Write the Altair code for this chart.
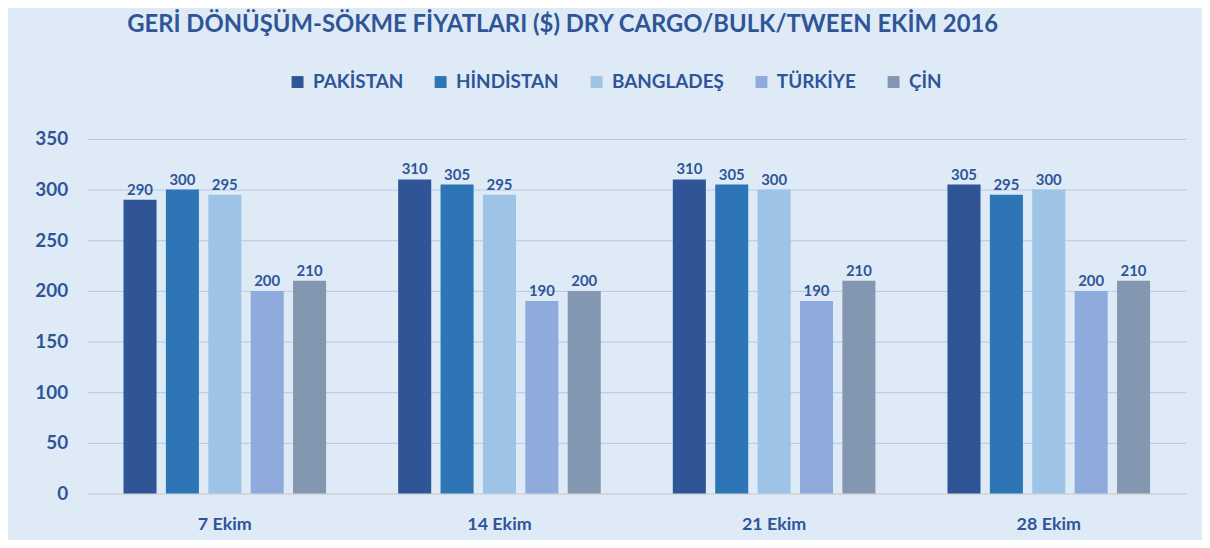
import altair as alt
import pandas as pd

dates = ["7 Ekim", "14 Ekim", "21 Ekim", "28 Ekim"]
countries = ["PAKİSTAN", "HİNDİSTAN", "BANGLADEŞ", "TÜRKİYE", "ÇİN"]
pakistan = [290, 310, 310, 305]
hindistan = [300, 305, 305, 295]
banglades = [295, 295, 300, 300]
turkiye = [200, 190, 190, 200]
cin = [210, 200, 210, 210]
colors = ["#2F5597", "#2E75B6", "#9DC3E6", "#8FAADC", "#8497B0"]

series = [pakistan, hindistan, banglades, turkiye, cin]
rows = []
for c, vals in zip(countries, series):
    for d, v in zip(dates, vals):
        rows.append({"date": d, "country": c, "value": v})
df = pd.DataFrame(rows)

TXT = "#2F5597"
FONT = "Lato"

base = alt.Chart(df).encode(
    x=alt.X("date:N", sort=dates, scale=alt.Scale(paddingInner=0, paddingOuter=0),
            axis=alt.Axis(title=None, labelAngle=0, ticks=False, domainColor="#D9D9D9",
                          domainWidth=1.5, labelPadding=22, labelFontSize=18,
                          labelFont=FONT, labelFontWeight="bold", labelColor=TXT)),
    xOffset=alt.XOffset("country:N", sort=countries,
                        scale=alt.Scale(paddingInner=0.22, paddingOuter=0.85)),
    y=alt.Y("value:Q", scale=alt.Scale(domain=[0, 350]),
            axis=alt.Axis(title=None, values=list(range(0, 351, 50)), domain=False,
                          ticks=False, labelPadding=20, labelFontSize=19, labelFont=FONT,
                          labelFontWeight="bold", labelColor=TXT, gridColor="#B4C7E7")),
)

bars = base.mark_bar().encode(
    color=alt.Color("country:N", sort=countries,
                    scale=alt.Scale(domain=countries, range=colors),
                    legend=alt.Legend(orient="none", legendX=202, legendY=-67,
                                      direction="horizontal", title=None,
                                      symbolType="square", symbolSize=144,
                                      symbolStrokeWidth=0, labelFont=FONT,
                                      labelFontSize=19, labelFontWeight="bold",
                                      labelColor=TXT, columnPadding=28, labelOffset=6))
)

labels = base.mark_text(dy=-10, font=FONT, fontSize=15, fontWeight="bold", color=TXT).encode(
    text="value:Q"
)

chart = alt.layer(bars, labels).properties(
    width=1106,
    height=357,
    autosize=alt.AutoSizeParams(type="none"),
    padding={"left": 80, "top": 130, "right": 16, "bottom": 45},
    background="#DEEBF7",
    title=alt.Title("GERİ DÖNÜŞÜM-SÖKME FİYATLARI ($) DRY CARGO/BULK/TWEEN EKİM 2016",
                    anchor="start", dx=93, offset=36, font=FONT, fontSize=24,
                    fontWeight="bold", color=TXT),
).configure_view(stroke=None)

chart.save("out.html", embed_options={"renderer": "svg", "actions": False})
